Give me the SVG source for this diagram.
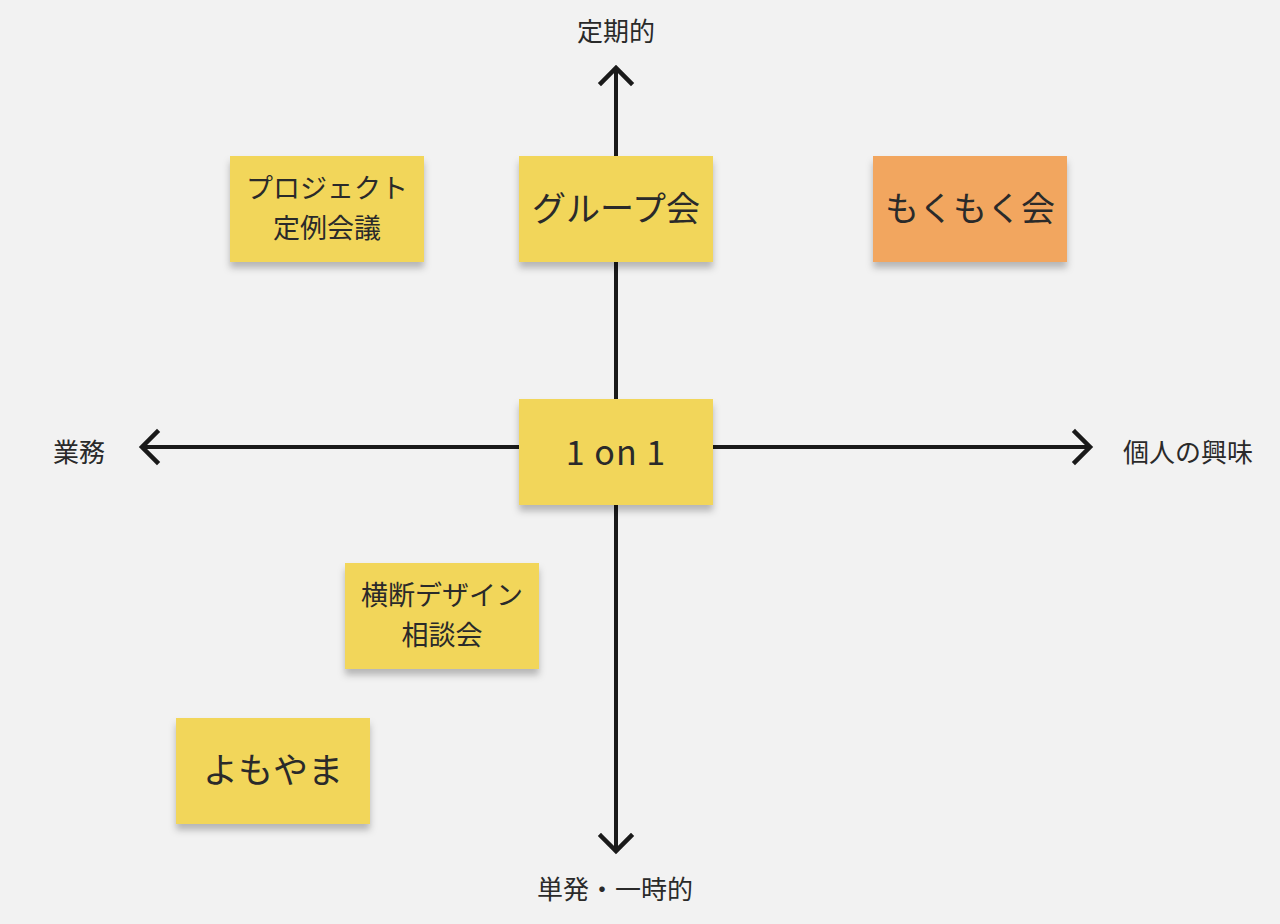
<svg xmlns="http://www.w3.org/2000/svg" width="1280" height="924" viewBox="0 0 1280 924">
<defs>
<filter id="sh" x="-10%" y="-10%" width="120%" height="130%">
<feDropShadow dx="0" dy="6" stdDeviation="3.5" flood-color="#000" flood-opacity="0.25"/>
</filter>
</defs>
<style>
.ax{stroke:#1a1a1a;stroke-width:4;fill:none}
.hd{stroke:#1a1a1a;stroke-width:4.5;fill:none;stroke-linecap:square;stroke-linejoin:miter}
.y{fill:#F2D65A;filter:url(#sh)}
.o{fill:#F2A65E;filter:url(#sh)}
text{font-family:"Noto Sans CJK JP","Noto Sans",sans-serif;fill:#2a2a2a;text-anchor:middle}
.lb{font-size:26px}
</style>
<rect width="1280" height="924" fill="#F2F2F2"/>
<g id="connectors">
<line class="ax" x1="616" y1="70" x2="616" y2="850"/>
<line class="ax" x1="145" y1="447" x2="1087" y2="447"/>
<polyline class="hd" points="601,83 616,68 631,83"/>
<polyline class="hd" points="601,836 616,851 631,836"/>
<polyline class="hd" points="157,432 142,447 157,462"/>
<polyline class="hd" points="1075,432 1090,447 1075,462"/>
</g>
<g id="label-top"><text class="lb" x="616" y="41">定期的</text></g>
<g id="label-bottom"><text class="lb" x="615" y="899">単発・一時的</text></g>
<g id="label-left"><text class="lb" x="79" y="462">業務</text></g>
<g id="label-right"><text class="lb" x="1188" y="462">個人の興味</text></g>
<g id="n-project">
<rect class="y" x="230" y="156" width="194" height="106"/>
<text x="327" y="198" font-size="27">プロジェクト</text>
<text x="327" y="238" font-size="27">定例会議</text>
</g>
<g id="n-group">
<rect class="y" x="519" y="156" width="194" height="106"/>
<text x="616" y="221" font-size="34">グループ会</text>
</g>
<g id="n-mokumoku">
<rect class="o" x="873" y="156" width="194" height="106"/>
<text x="970" y="221" font-size="34">もくもく会</text>
</g>
<g id="n-1on1">
<rect class="y" x="519" y="399" width="194" height="106"/>
<text x="616" y="465" font-size="34" letter-spacing="1">1 on 1</text>
</g>
<g id="n-oudan">
<rect class="y" x="345" y="563" width="194" height="106"/>
<text x="442" y="605" font-size="27">横断デザイン</text>
<text x="442" y="645" font-size="27">相談会</text>
</g>
<g id="n-yomoyama">
<rect class="y" x="176" y="718" width="194" height="106"/>
<text x="273" y="783" font-size="35">よもやま</text>
</g>
</svg>
